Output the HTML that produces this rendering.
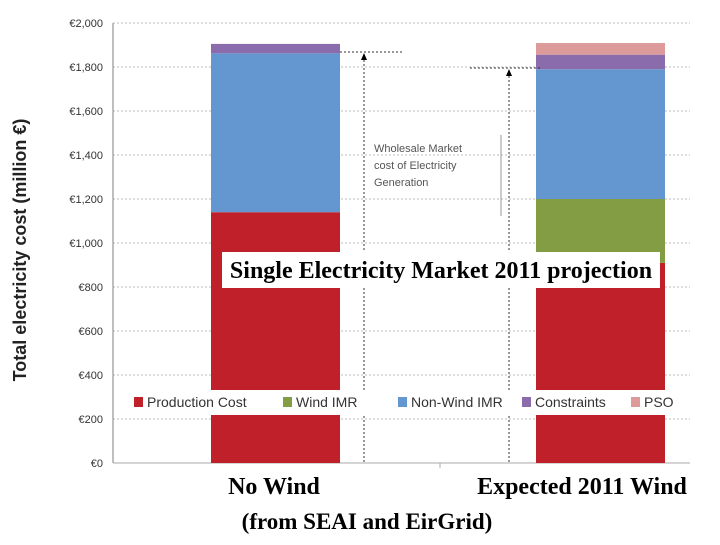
<!DOCTYPE html>
<html><head><meta charset="utf-8"><style>
body{margin:0;background:#fff;width:720px;height:540px;overflow:hidden}
svg text{font-family:"Liberation Sans",sans-serif}
</style></head><body>
<svg width="720" height="540" id="c">
<g id="grid"></g><g id="bars"></g>
<g stroke="#333" stroke-dasharray="2,2" fill="none">
<line x1="340" y1="52" x2="402" y2="52"/><line x1="364" y1="56" x2="364" y2="463"/>
<line x1="470" y1="68" x2="540" y2="68"/><line x1="509" y1="72" x2="509" y2="463"/>
</g>
<polygon points="361,60 367,60 364,53" fill="#000"/><polygon points="506,76 512,76 509,69" fill="#000"/>
<line x1="501" y1="135" x2="501" y2="216" stroke="#999"/>
<g font-size="11" fill="#555">
<text x="374" y="152">Wholesale Market</text><text x="374" y="169">cost of Electricity</text><text x="374" y="186">Generation</text></g>
<rect x="125" y="390" width="575" height="25" fill="#fff"/>
<g id="legend"></g>
<rect x="222" y="252" width="438" height="36" fill="#fff"/>
<text x="441" y="278" text-anchor="middle" font-size="24" font-weight="bold" style="font-family:'Liberation Serif',serif">Single Electricity Market 2011 projection</text>
<text transform="translate(26,250) rotate(-90)" text-anchor="middle" font-size="18" font-weight="bold" fill="#222">Total electricity cost (million €)</text>
<g font-weight="bold" font-size="24" text-anchor="middle">
<text x="274" y="494" style="font-family:'Liberation Serif',serif">No Wind</text>
<text x="582" y="494" style="font-family:'Liberation Serif',serif">Expected 2011 Wind</text>
<text x="367" y="529" font-size="23" style="font-family:'Liberation Serif',serif">(from SEAI and EirGrid)</text>
</g>
</svg>
<script>
const categories=["No Wind","Expected 2011 Wind"];
const seriesNames=["Production Cost","Wind IMR","Non-Wind IMR","Constraints","PSO"];
const colors=["#c0202a","#829d44","#6497cf","#8a6bab","#dc9a9a"];
const productionCost=[1140,910];
const windIMR=[0,290];
const nonWindIMR=[722,590];
const constraints=[43,66];
const pso=[0,53];
const yTicks=[0,200,400,600,800,1000,1200,1400,1600,1800,2000];
const ns="http://www.w3.org/2000/svg";
const y=v=>463-v*0.22, barX=[211,536], bw=129;
function mk(t,a,p){const e=document.createElementNS(ns,t);for(const k in a)e.setAttribute(k,a[k]);p.appendChild(e);return e;}
const g=document.getElementById('grid');
yTicks.forEach(v=>{
 if(v>0){const l=mk('line',{x1:113,x2:690,y1:y(v),y2:y(v),stroke:'#bbb','stroke-dasharray':'2,2'},g);
 
 }
 const t=mk('text',{x:103,y:y(v)+4,'text-anchor':'end','font-size':11,fill:'#333'},g);
 
 
 t.textContent='€'+v.toLocaleString('en-US');
});
mk('line',{x1:113,x2:113,y1:23,y2:463,stroke:'#aaa','stroke-width':1.5},g);
mk('line',{x1:113,x2:690,y1:463,y2:463,stroke:'#aaa'},g);
mk('line',{x1:440,x2:440,y1:463,y2:468,stroke:'#aaa'},g);
const b=document.getElementById('bars');
const series=[productionCost,windIMR,nonWindIMR,constraints,pso];
categories.forEach((c,i)=>{let base=0;series.forEach((s,j)=>{const v=s[i];if(v>0){
 const r=mk('rect',{x:barX[i],y:y(base+v),width:bw,height:v*0.22,fill:colors[j]},b);
 
 }
 base+=v;});});
const lg=document.getElementById('legend');
const lx=[134,283,398,522,631];
seriesNames.forEach((n,i)=>{mk('rect',{x:lx[i],y:397,width:9,height:10,fill:colors[i]},lg);
 const t=mk('text',{x:lx[i]+13,y:407,'font-size':14,fill:'#333'},lg);
 
 
 t.textContent=n;});
</script>
</body></html>
